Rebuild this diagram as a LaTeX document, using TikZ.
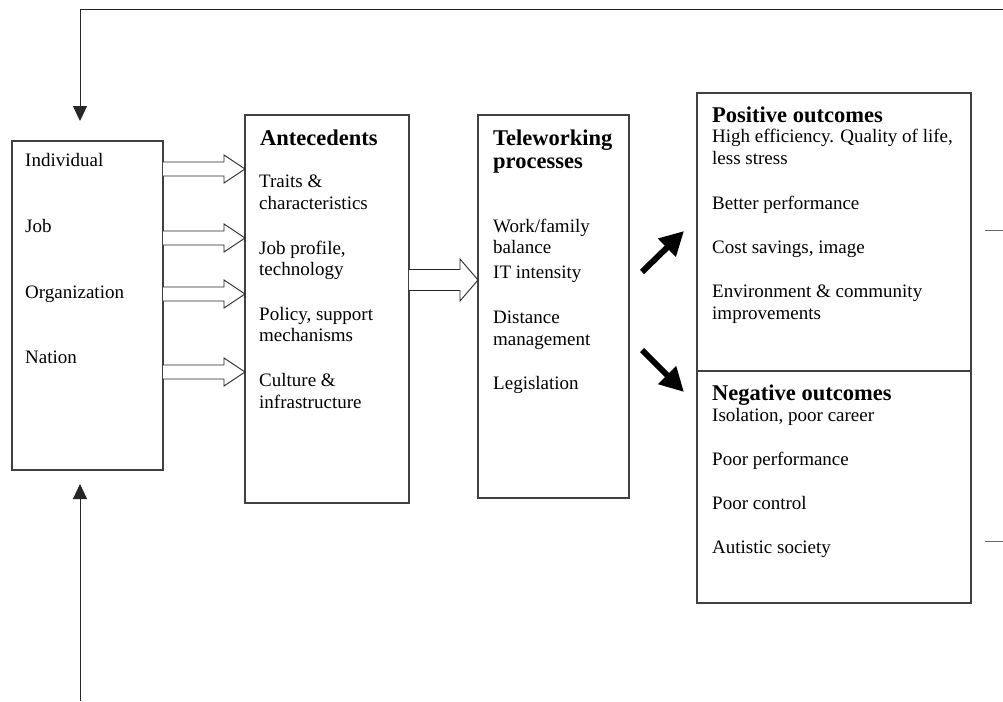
\documentclass[tikz,border=0pt]{standalone}
\usepackage{fontspec}
\setmainfont{Liberation Serif}
\usetikzlibrary{arrows.meta}
\tikzset{
  box/.style={draw=black!75, line width=1.1pt},
  txt/.style={anchor=base west, inner sep=0pt, font=\fontsize{19}{22}\selectfont},
  ttl/.style={anchor=base west, inner sep=0pt, font=\fontsize{22.5}{25}\selectfont\bfseries},
  hollow/.style={draw=black!85, line width=0.9pt, fill=white, line join=miter},
  thin/.style={draw=black!85, line width=1pt},
  bold/.style={line width=6pt, -{Triangle[width=24pt,length=24pt]}},
}
\newcommand{\harrow}[5]{% x1, xhead, xtip, ycenter, head half
  \draw[hollow] (#1,#4-7) -- (#2,#4-7) -- (#2,#4-#5) -- (#3,#4) -- (#2,#4+#5) -- (#2,#4+7) -- (#1,#4+7);
}
\newcommand{\harrowb}[4]{% big
  \draw[hollow] (#1,#4-10.5) -- (#2,#4-10.5) -- (#2,#4-21) -- (#3,#4) -- (#2,#4+21) -- (#2,#4+10.5) -- (#1,#4+10.5);
}
\begin{document}
\begin{tikzpicture}[x=1pt,y=-1pt]
\useasboundingbox (0,0) rectangle (1003,701);
% boxes
\draw[box] (12,141) rectangle (163,470);
\node[inner sep=0pt] (L) at (87.5,305.5) {};
\draw[box] (245,115) rectangle (409,503);
\node[inner sep=0pt] (A) at (327,309) {};
\draw[box] (478,115) rectangle (629,498);
\node[inner sep=0pt] (T) at (553.5,306.5) {};
\draw[box] (697,93) rectangle (971,603);
\draw[box] (697,371) -- (971,371);
\node[inner sep=0pt] (O) at (834,348) {};
% feedback lines
\coordinate (topL) at (80,10);
\coordinate (topR) at (1003,10);
\coordinate (tipT) at (80,121);
\draw[thin, -{Triangle[width=14pt,length=15pt]}] (topR) -- (topL) -- (tipT);
\coordinate (botS) at (80,701);
\coordinate (tipB) at (80,484);
\draw[thin, -{Triangle[width=14pt,length=15pt]}] (botS) -- (tipB);
\coordinate (r1a) at (985,230); \coordinate (r1b) at (1003,230);
\coordinate (r2a) at (985,541); \coordinate (r2b) at (1003,541);
\draw[draw=black!60, line width=1pt] (r1a) -- (r1b);
\draw[draw=black!60, line width=1pt] (r2a) -- (r2b);
% hollow arrows
\harrow{163}{224}{245}{169}{14}
\harrow{163}{224}{245}{238}{14}
\harrow{163}{224}{245}{294}{14}
\harrow{163}{224}{245}{372}{14}
\harrowb{409}{460}{478}{280}
% bold arrows
\coordinate (u1) at (642,272); \coordinate (u2) at (684,231);
\coordinate (d1) at (642,350); \coordinate (d2) at (684,392);
\draw[bold] (u1) -- (u2);
\draw[bold] (d1) -- (d2);
% left texts
\node[txt] (t1) at (25,166) {Individual};
\node[txt] (t2) at (25,232) {Job};
\node[txt] (t3) at (25,298) {Organization};
\node[txt] (t4) at (25,363) {Nation};
% antecedents
\node[ttl] (a0) at (260,145) {Antecedents};
\node[txt] (a1) at (259,187) {Traits \&};
\node[txt] (a2) at (259,209) {characteristics};
\node[txt] (a3) at (259,254) {Job profile,};
\node[txt] (a4) at (259,275) {technology};
\node[txt] (a5) at (259,320) {Policy, support};
\node[txt] (a6) at (259,341) {mechanisms};
\node[txt] (a7) at (259,386) {Culture \&};
\node[txt] (a8) at (259,408) {infrastructure};
% teleworking
\node[ttl] (p0) at (493,145) {Teleworking};
\node[ttl] (p1) at (493,168) {processes};
\node[txt] (p2) at (493,232) {Work/family};
\node[txt] (p3) at (493,253) {balance};
\node[txt] (p4) at (493,278) {IT intensity};
\node[txt] (p5) at (493,323) {Distance};
\node[txt] (p6) at (493,345) {management};
\node[txt] (p7) at (493,389) {Legislation};
% positive
\node[ttl] (o0) at (712,122) {Positive outcomes};
\node[txt] (o1) at (712,142) {High efficiency. Quality of life,};
\node[txt] (o2) at (712,164) {less stress};
\node[txt] (o3) at (712,209) {Better performance};
\node[txt] (o4) at (712,253) {Cost savings, image};
\node[txt] (o5) at (712,297) {Environment \& community};
\node[txt] (o6) at (712,319) {improvements};
% negative
\node[ttl] (n0) at (712,400) {Negative outcomes};
\node[txt] (n1) at (712,421) {Isolation, poor career};
\node[txt] (n2) at (712,465) {Poor performance};
\node[txt] (n3) at (712,509) {Poor control};
\node[txt] (n4) at (712,553) {Autistic society};
\end{tikzpicture}
\end{document}
